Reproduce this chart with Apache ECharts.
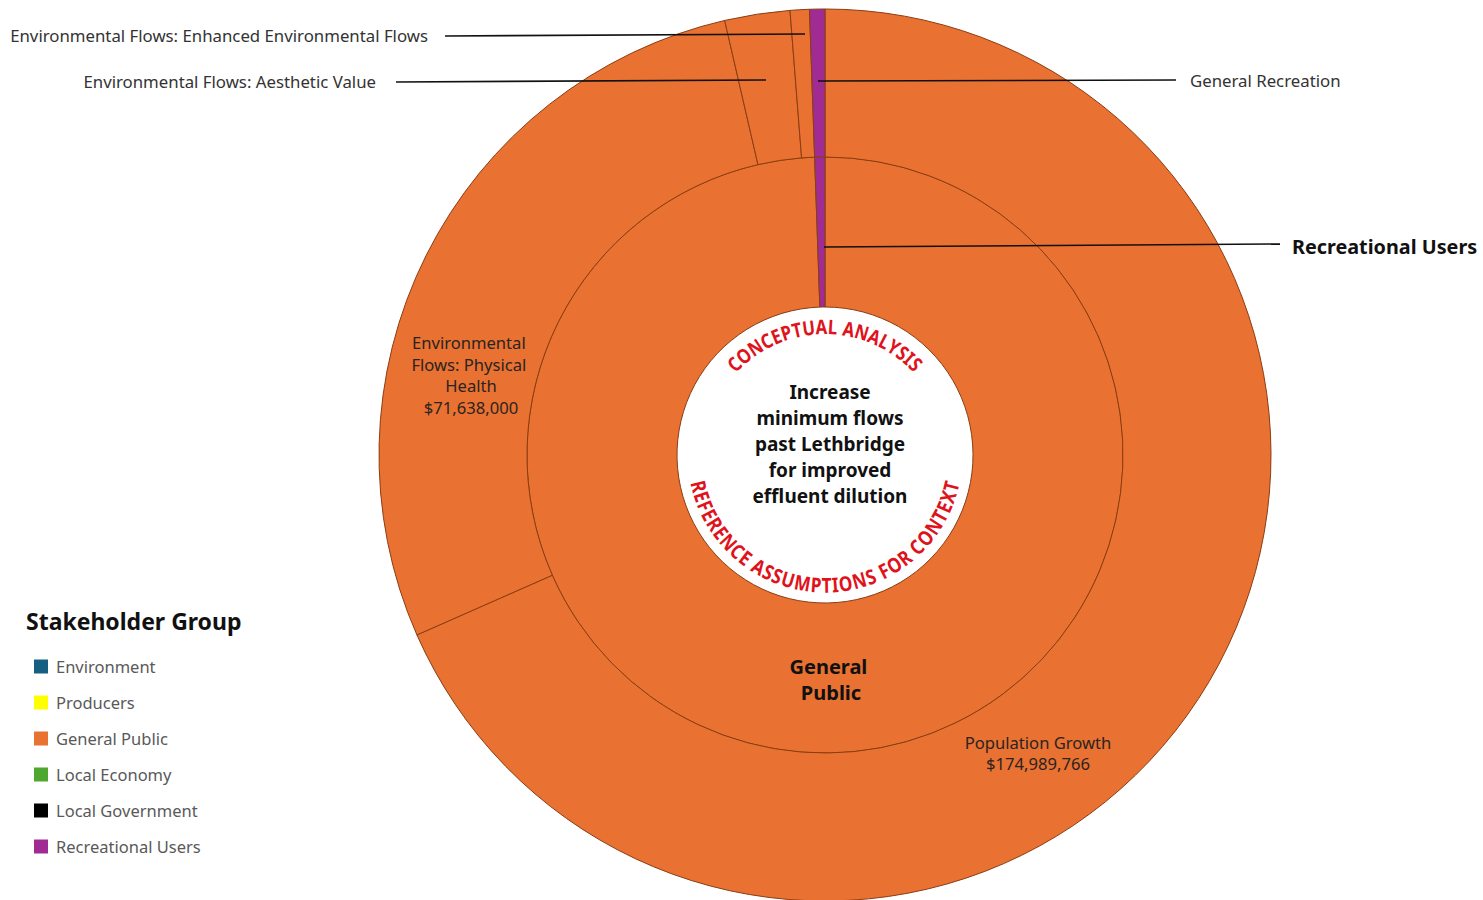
<!DOCTYPE html>
<html><head><meta charset="utf-8">
<script src="https://cdn.jsdelivr.net/npm/echarts@6/dist/echarts.min.js"></script>
<style>html,body{margin:0;padding:0;background:#fff}#chart{width:1483px;height:900px}</style>
</head><body><div id="chart"></div>
<script>
// ---------- data ----------
const outerNames = ['Population Growth', 'Environmental Flows: Physical Health', 'Environmental Flows: Aesthetic Value', 'Environmental Flows: Enhanced Environmental Flows', 'General Recreation'];
const outerValues = [174989766, 71638000, 6040000, 1780000, 1420000];
const outerGroups = ['General Public', 'General Public', 'General Public', 'General Public', 'Recreational Users'];
const outerShowValue = [true, true, false, false, false];
const groupNames = ['Environment', 'Producers', 'General Public', 'Local Economy', 'Local Government', 'Recreational Users'];
const groupColors = ['#156082', '#FFFF00', '#E97132', '#4EA72E', '#000000', '#A02B93'];
const legendTitle = 'Stakeholder Group';
const centerLines = ['Increase', 'minimum flows', 'past Lethbridge', 'for improved', 'effluent dilution'];
const arcTopText = 'CONCEPTUAL ANALYSIS';
const arcBottomText = 'REFERENCE ASSUMPTIONS FOR CONTEXT';

// ---------- derived ----------
const colorOf = {};
groupNames.forEach((g, i) => colorOf[g] = groupColors[i]);
const innerNames = [];
const innerValues = [];
outerGroups.forEach((g, i) => {
  let k = innerNames.indexOf(g);
  if (k < 0) { innerNames.push(g); innerValues.push(0); k = innerNames.length - 1; }
  innerValues[k] += outerValues[i];
});
const dummyNames = groupNames.filter(g => innerNames.indexOf(g) < 0);

const FONT = '"Noto Sans", "Open Sans", sans-serif';
const CX = 825, CY = 455;
const R0 = 148, R1 = 298, R2 = 446;
const BORDER = { borderColor: '#8a3d12', borderWidth: 1 };
const money = v => '$' + v.toLocaleString('en-US');

// label placement (style only)
const outerSpots = [
  { x: 1038, y: 753, align: 'center', verticalAlign: 'middle' },
  { x: 471, y: 375, align: 'center', verticalAlign: 'middle' },
  { x: 376, y: 81, align: 'right', verticalAlign: 'middle' },
  { x: 428, y: 35, align: 'right', verticalAlign: 'middle' },
  { x: 1190, y: 80, align: 'left', verticalAlign: 'middle' }
];
const innerSpots = {
  'General Public': { x: 831, y: 679, align: 'center', verticalAlign: 'middle' },
  'Recreational Users': { x: 1292, y: 246, align: 'left', verticalAlign: 'middle' }
};
// callout leader lines (annotation)
const leaderLines = [
  [[805, 34], [445, 36]],
  [[766, 80], [396, 82]],
  [[818, 81], [1176, 80]],
  [[824, 247], [1280, 244]]
];

const outerData = outerNames.map((n, i) => {
  const inside = outerShowValue[i];
  return {
    name: n, value: outerValues[i],
    itemStyle: Object.assign({ color: colorOf[outerGroups[i]] }, BORDER),
    label: inside ? Object.assign({
      position: 'inside', formatter: '{b}\n' + money(outerValues[i]),
      lineHeight: 21.5, fontSize: 16.6, color: '#2a2420'
    }, i === 1 ? { width: 150, overflow: 'break' } : {}) : {
      position: 'outside', formatter: '{b}', fontSize: 16.8, color: '#333'
    },
    labelLine: { show: false }
  };
});
const innerData = innerNames.map((n, i) => {
  const inside = n === 'General Public';
  return {
    name: n, value: innerValues[i],
    itemStyle: Object.assign({ color: colorOf[n] }, BORDER),
    label: inside ? {
      position: 'inside', formatter: '{b}', width: 90, overflow: 'break',
      lineHeight: 26, fontSize: 20, fontWeight: 'bold', color: '#111'
    } : {
      position: 'outside', formatter: '{b}', fontSize: 19.8, fontWeight: 'bold', color: '#111'
    },
    labelLine: { show: false }
  };
});

// ---------- curved texts ----------
const mctx = document.createElement('canvas').getContext('2d');
function arcChars(str, r, spanDeg, top, fs, sx) {
  mctx.font = 'bold ' + fs + 'px ' + FONT;
  const chars = Array.from(str);
  const adv = chars.map(ch => mctx.measureText(ch).width * sx);
  let acc = 0;
  const pos = adv.map(a => { const p = acc + a / 2; acc += a; return p; });
  const natural = pos[pos.length - 1] - pos[0];
  const target = spanDeg * Math.PI / 180 * r;
  const extra = (target - natural) / (chars.length - 1);
  const p0 = pos[0];
  const out = [];
  chars.forEach((ch, i) => {
    if (ch === ' ') return;
    const s = pos[i] - p0 + i * extra;
    const t = (s - target / 2) / r;
    let x, y, rot;
    if (top) { x = CX + r * Math.sin(t); y = CY - r * Math.cos(t); rot = -t; }
    else { x = CX + r * Math.sin(t); y = CY + r * Math.cos(t); rot = t; }
    out.push({
      type: 'text', x: x, y: y, rotation: rot, scaleX: sx, silent: true, z: 10,
      style: { text: ch, font: 'bold ' + fs + 'px ' + FONT, fill: '#E0121B', align: 'center', verticalAlign: 'middle' }
    });
  });
  return out;
}

const graphics = []
  .concat(arcChars(arcTopText, 129, 90, true, 20, 0.84))
  .concat(arcChars(arcBottomText, 130, 152, false, 20.5, 0.84))
  .concat([{
    type: 'text', x: 830, y: 444, silent: true, z: 10,
    style: { text: centerLines.join('\n'), font: 'bold 19px ' + FONT, lineHeight: 26, fill: '#111', align: 'center', verticalAlign: 'middle' }
  }])
  .concat(leaderLines.map(pts => ({
    type: 'polyline', silent: true, z: 20,
    shape: { points: pts }, style: { stroke: '#111', lineWidth: 1.6, fill: null }
  })));

const chart = echarts.init(document.getElementById('chart'), null, { renderer: 'svg' });
chart.setOption({
  backgroundColor: '#ffffff',
  animation: false,
  textStyle: { fontFamily: FONT },
  title: {
    text: legendTitle, left: 21, top: 604,
    textStyle: { fontSize: 23, fontWeight: 'bold', color: '#111', fontFamily: FONT }
  },
  legend: {
    orient: 'vertical', left: 29, top: 653, icon: 'rect', itemWidth: 14, itemHeight: 14, itemGap: 19,
    selectedMode: false, data: groupNames,
    itemStyle: { borderWidth: 0 },
    textStyle: { fontSize: 16.5, color: '#595959', fontFamily: FONT, padding: [0, 0, 0, 3] }
  },
  graphic: graphics,
  series: [
    {
      type: 'pie', name: 'Stakeholder Group', center: [CX, CY], radius: [R0, R1],
      startAngle: 90, clockwise: true, avoidLabelOverlap: false, silent: true,
      label: { show: true, fontFamily: FONT },
      labelLayout: p => innerSpots[innerNames[p.dataIndex]],
      data: innerData
    },
    {
      type: 'pie', name: 'Benefit', center: [CX, CY], radius: [R1, R2],
      startAngle: 90, clockwise: true, avoidLabelOverlap: false, silent: true,
      label: { show: true, fontFamily: FONT },
      labelLayout: p => outerSpots[p.dataIndex],
      data: outerData
    },
    {
      type: 'pie', name: 'legend-only', center: [CX, CY], radius: [0, 0], silent: true,
      stillShowZeroSum: false, label: { show: false }, labelLine: { show: false },
      data: dummyNames.map(n => ({ name: n, value: 0, itemStyle: { color: colorOf[n] } }))
    }
  ]
});
</script></body></html>
